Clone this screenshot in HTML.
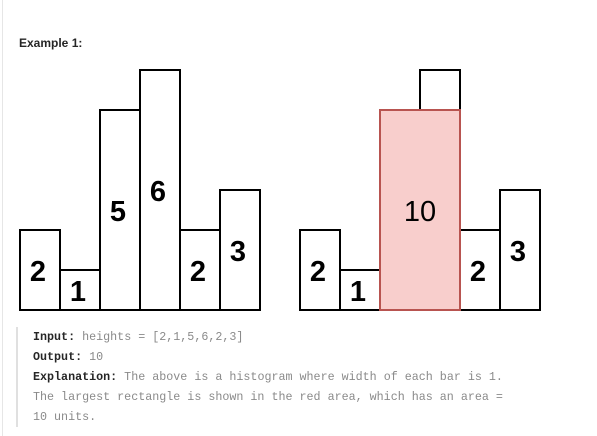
<!DOCTYPE html>
<html><head><meta charset="utf-8"><style>
body{margin:0;width:597px;height:436px;background:#fff;overflow:hidden;position:relative;font-family:"Liberation Sans",sans-serif}
.pb{position:absolute;left:2px;top:0;width:1px;height:436px;background:#e6e6e6}
.title{position:absolute;left:19px;top:36px;font-size:12px;font-weight:bold;color:#262626}
.code{position:absolute;left:16px;top:327px;border-left:2px solid #e0e0e0;padding-left:15px;font-family:"Liberation Mono",monospace;font-size:11.7px;line-height:20px;color:#8a8a8a;width:480px;height:100px}
.code b{color:#262626}
svg{position:absolute;left:0;top:0}
</style></head><body>
<div class="pb"></div>
<div class="title">Example 1:</div>
<svg width="597" height="320" id="chart"></svg>
<div class="code">
<div><b>Input:</b> heights = [2,1,5,6,2,3]</div>
<div><b>Output:</b> 10</div>
<div><b>Explanation:</b> The above is a histogram where width of each bar is 1. The largest rectangle is shown in the red area, which has an area = 10 units.</div>
</div>
<script>
const heights=[2,1,5,6,2,3];
const rectStart=2, rectEnd=3, rectHeight=5;
const rectLabel="10";
const svg=document.getElementById('chart');
const NS='http://www.w3.org/2000/svg';
const unit=40, base=310, bw=40;
function y(v){return base-v*unit;}
function mk(tag,attrs){const e=document.createElementNS(NS,tag);for(const k in attrs)e.setAttribute(k,attrs[k]);svg.appendChild(e);return e;}
function chart(x0,withRect){
  heights.forEach((h,i)=>{
    const r=mk('rect',{x:x0+i*bw,y:y(h),width:bw,height:h*unit,fill:'#fff',stroke:'#000','stroke-width':2});
    
    
  });
  if(withRect){
    const r=mk('rect',{x:x0+rectStart*bw,y:y(rectHeight),width:(rectEnd-rectStart+1)*bw,height:rectHeight*unit,fill:'#f8cecc',stroke:'#b85450','stroke-width':2});
    
    
    const t=mk('text',{x:x0+(rectStart+rectEnd+1)/2*bw,y:(y(rectHeight)+base)/2+11,'text-anchor':'middle','font-size':29,fill:'#000','font-family':'Liberation Sans, sans-serif'});
    t.textContent=rectLabel;
    
    
  }
  heights.forEach((h,i)=>{
    if(withRect && i>=rectStart && i<=rectEnd) return;
    const t=mk('text',{x:x0+i*bw+bw/2-2,y:(y(h)+base)/2+11,'text-anchor':'middle','font-size':29,'font-weight':'bold',fill:'#000','font-family':'Liberation Sans, sans-serif'});
    t.textContent=String(h);
    
    
  });
}
chart(20,false);
chart(300,true);
</script>
</body></html>
